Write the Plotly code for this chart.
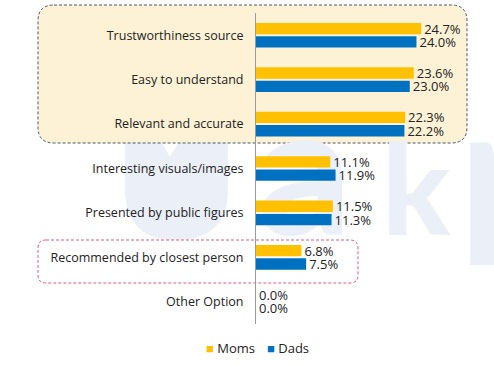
import plotly.graph_objects as go

categories = ["Trustworthiness source", "Easy to understand", "Relevant and accurate",
              "Interesting visuals/images", "Presented by public figures",
              "Recommended by closest person", "Other Option"]
moms = [24.7, 23.6, 22.3, 11.1, 11.5, 6.8, 0.0]
dads = [24.0, 23.0, 22.2, 11.9, 11.3, 7.5, 0.0]
series_names = ["Moms", "Dads"]
series_colors = ["#FFC000", "#0070C0"]

W, H = 494, 366
PL, PR, PT, PB = 256, 490, 13, 324   # plot area in pixels
FONT = "Open Sans"
WM = "#EAEFF8"

def px(x):
    return x / W

def py(y):
    return 1 - y / H

def rrect(x0, y0, x1, y1, r):
    pts = [
        f"M {px(x0 + r)},{py(y0)}",
        f"L {px(x1 - r)},{py(y0)}",
        f"Q {px(x1)},{py(y0)} {px(x1)},{py(y0 + r)}",
        f"L {px(x1)},{py(y1 - r)}",
        f"Q {px(x1)},{py(y1)} {px(x1 - r)},{py(y1)}",
        f"L {px(x0 + r)},{py(y1)}",
        f"Q {px(x0)},{py(y1)} {px(x0)},{py(y1 - r)}",
        f"L {px(x0)},{py(y0 + r)}",
        f"Q {px(x0)},{py(y0)} {px(x0 + r)},{py(y0)}",
        "Z",
    ]
    return " ".join(pts)

def logo_path():
    p = [(125, 140), (160, 140), (170, 157), (180, 140), (228, 140)]
    s = f"M {px(p[0][0])},{py(p[0][1])} " + " ".join(f"L {px(x)},{py(y)}" for x, y in p[1:])
    s += f" L {px(228)},{py(188)} Q {px(228)},{py(240)} {px(176)},{py(240)}"
    s += f" Q {px(125)},{py(240)} {px(125)},{py(188)} Z"
    return s

fig = go.Figure()

# faint watermark letters on a full-figure base subplot (drawn beneath bars)
wm_letters = ["a", "k", "p"]
wm_x = [305, 416, 460]
wm_y = [190, 204, 190]
wm_size = [180, 125, 180]
wm_pos = ["middle center", "middle center", "middle right"]
fig.add_trace(go.Scatter(
    x=wm_x, y=wm_y, mode="text", text=wm_letters, textposition=wm_pos,
    textfont=dict(family="Lato", size=wm_size, color=WM, weight=900),
    cliponaxis=False, hoverinfo="skip", showlegend=False,
    xaxis="x", yaxis="y"))

for name, vals, col in zip(series_names, [moms, dads], series_colors):
    fig.add_trace(go.Bar(
        y=categories, x=vals, name=name, orientation="h",
        marker=dict(color=col, line=dict(width=0)),
        texttemplate="%{x:.1f}%", textposition="outside", cliponaxis=False,
        constraintext="none",
        textfont=dict(family=FONT, size=13, color="#222222"),
        xaxis="x2", yaxis="y2", showlegend=False))

shapes = [
    dict(type="path", xref="paper", yref="paper", layer="below",
         path=logo_path(), fillcolor=WM, line=dict(width=0)),
    dict(type="path", xref="paper", yref="paper", layer="below",
         path=rrect(38, 5, 467, 143, 16),
         fillcolor="#FDF2D6", line=dict(color="#4A5968", width=1, dash="3px,2px")),
    dict(type="path", xref="paper", yref="paper", layer="below",
         path=rrect(38, 240, 358, 283, 8),
         fillcolor="white", line=dict(color="#DD5C7E", width=1, dash="3px,2px")),
]

legend_x = [204, 265]
annotations = []
for name, col, lx in zip(series_names, series_colors, legend_x):
    annotations.append(dict(
        xref="paper", yref="paper", x=px(lx), y=py(348), xanchor="left", yanchor="middle",
        showarrow=False,
        text=f"<span style='color:{col}'>■</span> {name}",
        font=dict(family=FONT, size=13, color="#222222")))

fig.update_layout(
    width=W, height=H,
    margin=dict(l=0, r=0, t=0, b=0),
    paper_bgcolor="white", plot_bgcolor="rgba(0,0,0,0)",
    font=dict(family=FONT, size=12, color="#222222"),
    barmode="group", bargap=0.4, bargroupgap=0.15,
    shapes=shapes, annotations=annotations,
    xaxis=dict(domain=[0, 1], range=[0, W], visible=False, fixedrange=True),
    yaxis=dict(domain=[0, 1], range=[H, 0], visible=False, fixedrange=True),
    xaxis2=dict(domain=[px(PL), px(PR)], anchor="y2", range=[0, 35],
                showgrid=False, zeroline=False, showticklabels=False, showline=False),
    yaxis2=dict(domain=[py(PB), py(PT)], anchor="x2", type="category", autorange="reversed",
                showgrid=False, showline=True, linecolor="#9A9A9A", linewidth=1,
                ticks="", ticklabelstandoff=9,
                tickfont=dict(family=FONT, size=12.5, color="#222222")),
    showlegend=False,
)

fig.write_html("out.html", config={"displayModeBar": False},
               post_script="document.body.style.margin='0';")
